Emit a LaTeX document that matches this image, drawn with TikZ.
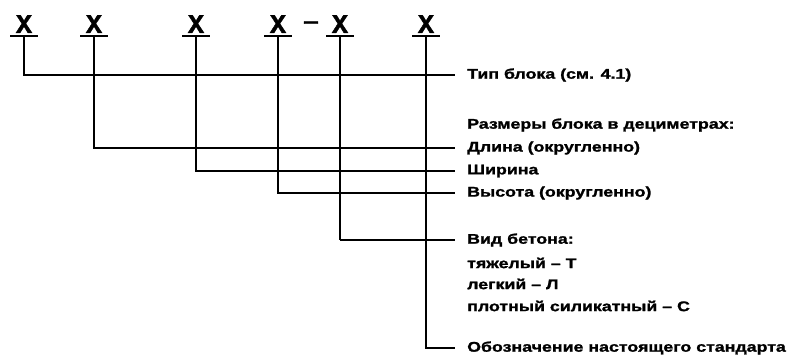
\documentclass[tikz,border=0pt]{standalone}
\usepackage{fontspec}
\setmainfont{Liberation Sans}[FakeStretch=1.27, BoldFeatures={FakeBold=1.5}]
\newfontfamily\xfont{Liberation Mono Bold}[FakeBold=1.5]
\begin{document}
\begin{tikzpicture}[x=1pt,y=1pt,
  lbl/.style={anchor=west,inner sep=0pt,font=\fontsize{14}{16}\selectfont\bfseries},
  xl/.style={inner sep=0pt,font=\fontsize{27}{27}\selectfont\xfont},
  ln/.style={line width=2.8pt},
  lnthin/.style={line width=1.6pt}]
\useasboundingbox (0,0) rectangle (789,358);
% X letters
\node[xl,anchor=base] (x1) at (24,325) {X};
\node[xl,anchor=base] (x2) at (94,325) {X};
\node[xl,anchor=base] (x3) at (196,325) {X};
\node[xl,anchor=base] (x4) at (278,325) {X};
\node[inner sep=0pt,font=\fontsize{22}{22}\selectfont\bfseries] (dash) at (311,333) {–};
\node[xl,anchor=base] (x5) at (340,325) {X};
\node[xl,anchor=base] (x6) at (426,325) {X};
% underlines
\foreach \n/\xx in {x1/24,x2/94,x3/196,x4/278,x5/340,x6/426}{
  \coordinate (u\n) at (\xx,322);
  \draw[ln] ([xshift=-14pt]u\n) -- ([xshift=14pt]u\n);
}
% labels
\node[lbl] (l1) at (467,283) {Тип блока (см. 4.1)};
\node[lbl] (l0) at (467,233) {Размеры блока в дециметрах:};
\node[lbl] (l2) at (467,210) {Длина (округленно)};
\node[lbl] (l3) at (467,187) {Ширина};
\node[lbl] (l4) at (467,165) {Высота (округленно)};
\node[lbl] (l5) at (467,118) {Вид бетона:};
\node[lbl] (l5a) at (467,95) {тяжелый – Т};
\node[lbl] (l5b) at (467,74) {легкий – Л};
\node[lbl] (l5c) at (467,52) {плотный силикатный – С};
\node[lbl] (l6) at (467,10) {Обозначение настоящего стандарта};
% connectors
\draw[ln] (ux1) |- ([xshift=-12pt]l1.west);
\draw[ln] (ux2) |- ([xshift=-12pt]l2.west);
\draw[ln] (ux3) |- ([xshift=-12pt]l3.west);
\draw[ln] (ux4) |- ([xshift=-12pt]l4.west);
\draw[ln] (ux5) -- (ux5|-l5.west);
\draw[lnthin] (ux5|-l5.west) -- ([xshift=-12pt]l5.west);
\draw[ln] (ux6) |- ([xshift=-12pt]l6.west);
\end{tikzpicture}
\end{document}
